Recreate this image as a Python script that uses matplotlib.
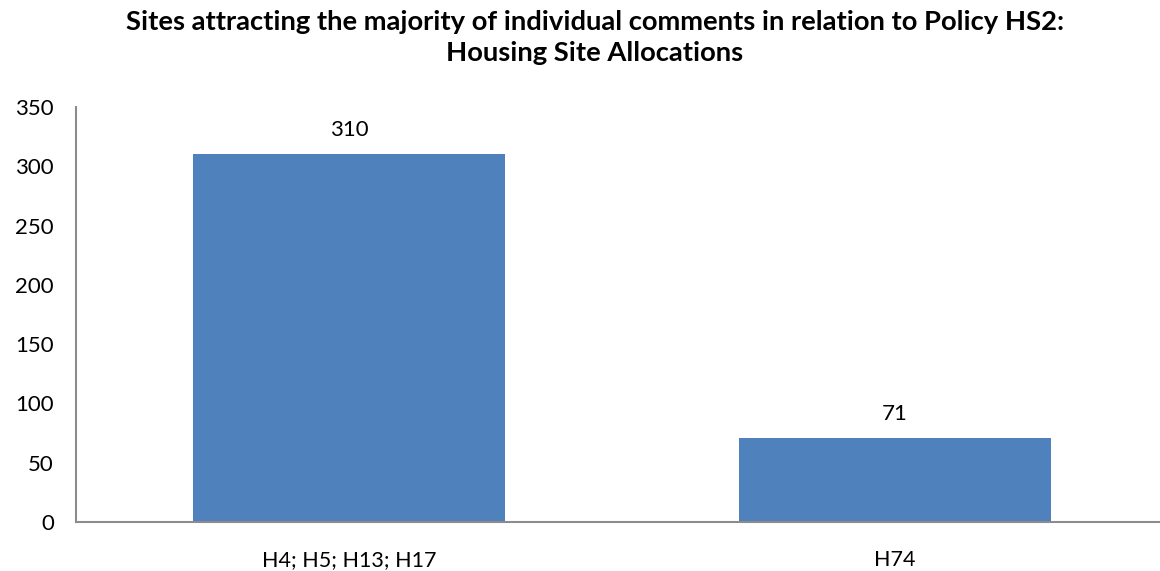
import matplotlib.pyplot as plt

categories = ['H4; H5; H13; H17', 'H74']
comments = [310, 71]
y_ticks = [0, 50, 100, 150, 200, 250, 300, 350]

plt.rcParams['font.family'] = ['Lato', 'DejaVu Sans']

fig = plt.figure(figsize=(11.6, 5.71), dpi=100)
ax = fig.add_axes([76 / 1160, 1 - 522 / 571, 1092 / 1160, 415 / 571])

x = range(len(categories))
bars = ax.bar(x, comments, width=0.57, color='#4f81bd')
for b, v in zip(bars, comments):
    ax.text(b.get_x() + b.get_width() / 2, v + 12, str(v),
            ha='center', va='bottom', fontsize=16)

ax.set_xlim(-0.5, len(categories) - 0.5)
ax.set_ylim(0, 350)
ax.set_yticks(y_ticks)
ax.set_xticks(list(x))
ax.set_xticklabels(categories)
ax.tick_params(length=0, labelsize=16)
ax.tick_params(axis='y', pad=16)
ax.tick_params(axis='x', pad=20, labelsize=15.5)

for s in ['top', 'right']:
    ax.spines[s].set_visible(False)
for s in ['left', 'bottom']:
    ax.spines[s].set_color('#8c8c8c')
    ax.spines[s].set_linewidth(1.5)

fig.text(595 / 1160, 0.982, 'Sites attracting the majority of individual comments in relation to Policy HS2:\nHousing Site Allocations',
         ha='center', va='top', fontsize=19.7, fontweight='bold', linespacing=1.35)

fig.savefig('out.png')
